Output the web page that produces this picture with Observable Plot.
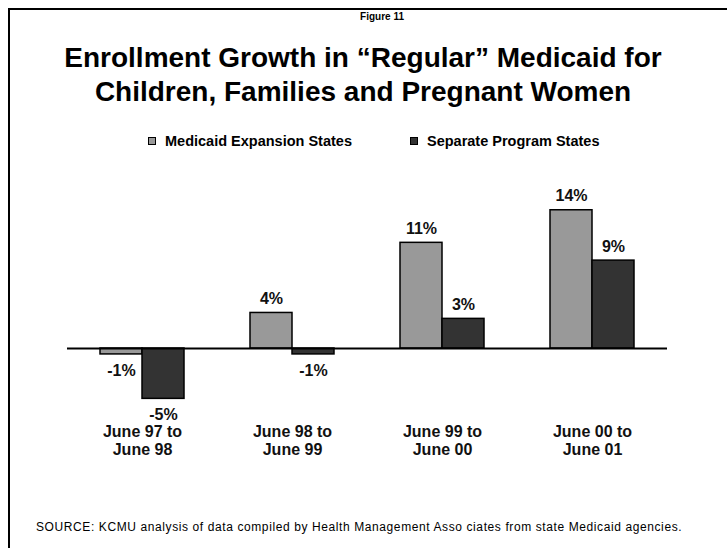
<!DOCTYPE html>
<html>
<head>
<meta charset="utf-8">
<script src="https://cdn.jsdelivr.net/npm/d3@7"></script>
<script src="https://cdn.jsdelivr.net/npm/@observablehq/plot@0.6"></script>
<style>
  body { margin: 0; background: #fff; font-family: "Liberation Sans", Arial, sans-serif; color: #000; }
  #page { position: relative; width: 727px; height: 548px; overflow: hidden; }
  #frame { position: absolute; left: 8px; top: 8px; width: 740px; height: 560px; border-top: 2px solid #000; border-left: 2px solid #000; box-sizing: border-box; }
  #fig { position: absolute; left: 0; width: 764px; top: 11px; text-align: center; font-weight: bold; font-size: 10px; line-height: 12px; }
  #title { position: absolute; left: 0; width: 726px; top: 41px; text-align: center; font-weight: bold; font-size: 28px; line-height: 34px; }
  .leg { position: absolute; top: 132px; height: 18px; line-height: 18px; font-weight: bold; font-size: 14.5px; white-space: nowrap; }
  .sw { position: absolute; left: 0; top: 5px; width: 8px; height: 8px; border: 1.5px solid #000; box-sizing: border-box; }
  .leg span.t { position: absolute; left: 17px; top: 0; }
  #chart { position: absolute; left: 0; top: 150px; }
  #source { position: absolute; left: 36px; top: 520px; font-size: 12px; line-height: 14px; letter-spacing: 0.6px; white-space: nowrap; }
</style>
</head>
<body>
<div id="page">
  <div id="frame"></div>
  <div id="fig">Figure 11</div>
  <div id="title">Enrollment Growth in “Regular” Medicaid for<br>Children, Families and Pregnant Women</div>
  <div id="legend"></div>
  <div id="chart"></div>
  <div id="source">SOURCE: KCMU analysis of data compiled by Health Management Asso ciates from state Medicaid agencies.</div>
</div>
<script>
const periods = ["June 97 to\nJune 98", "June 98 to\nJune 99", "June 99 to\nJune 00", "June 00 to\nJune 01"];
const seriesNames = ["Medicaid Expansion States", "Separate Program States"];
const expansionValues = [-0.6, 3.6, 10.7, 14.0];
const separateValues = [-5.1, -0.6, 3.0, 8.9];
const seriesColors = ["#999999", "#333333"];

const data = periods.flatMap((p, i) => [
  {period: p, series: seriesNames[0], value: expansionValues[i]},
  {period: p, series: seriesNames[1], value: separateValues[i]}
]);
const label = d => `${Math.round(d.value)}%`;
const font = "'Liberation Sans', Arial, sans-serif";

// legend
const legendLefts = [148, 410];
const legend = document.getElementById("legend");
seriesNames.forEach((s, i) => {
  const item = document.createElement("div");
  item.className = "leg";
  item.style.left = legendLefts[i] + "px";
  item.innerHTML = `<span class="sw" style="background:${seriesColors[i]}"></span><span class="t">${s}</span>`;
  legend.appendChild(item);
});

const chart = Plot.plot({
  width: 727,
  height: 330,
  marginLeft: 67,
  marginRight: 60,
  marginTop: 40,
  marginBottom: 72.75,
  style: {fontFamily: font, background: "transparent", color: "#000"},
  fx: {domain: periods, padding: 0, label: null},
  x: {domain: seriesNames, paddingInner: 0, paddingOuter: 0.75, axis: null},
  y: {domain: [-6, 16], axis: null},
  color: {domain: seriesNames, range: seriesColors},
  marks: [
    Plot.barY(data, {fx: "period", x: "series", y: "value", fill: "series", stroke: "#000", strokeWidth: 1.5}),
    Plot.ruleY([0], {stroke: "#000", strokeWidth: 2}),
    Plot.text(data.filter(d => d.value >= 0), {fx: "period", x: "series", y: "value", text: label, dy: -14, fontSize: 16, fontWeight: "bold", fill: "#111"}),
    Plot.text(data.filter(d => d.value < 0), {fx: "period", x: "series", y: "value", text: label, dy: 16, fontSize: 16, fontWeight: "bold", fill: "#111"}),
    Plot.axisFx({anchor: "bottom", tickSize: 0, tickPadding: 16, fontSize: 16, fontWeight: "bold", lineHeight: 1.15, label: null, fill: "#111"})
  ]
});
document.getElementById("chart").appendChild(chart);
</script>
</body>
</html>
